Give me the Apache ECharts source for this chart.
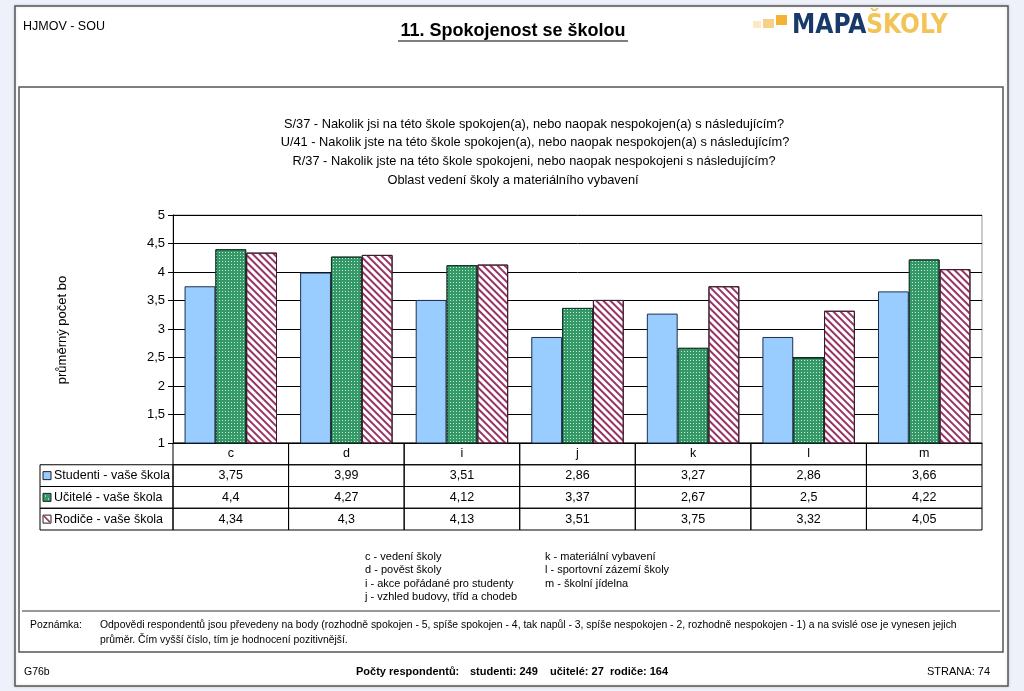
<!DOCTYPE html>
<html>
<head>
<meta charset="utf-8">
<script src="https://cdn.jsdelivr.net/npm/echarts@6/dist/echarts.min.js"></script>
<style>
html,body{margin:0;padding:0;background:#eef1fa;}
#main{width:1024px;height:691px;}
</style>
</head>
<body>
<div id="main"></div>
<script>
var categories = ['c', 'd', 'i', 'j', 'k', 'l', 'm'];
var seriesNames = ['Studenti - vaše škola', 'Učitelé - vaše škola', 'Rodiče - vaše škola'];
var studenti = [3.75, 3.99, 3.51, 2.86, 3.27, 2.86, 3.66];
var ucitele = [4.4, 4.27, 4.12, 3.37, 2.67, 2.5, 4.22];
var rodice = [4.34, 4.3, 4.13, 3.51, 3.75, 3.32, 4.05];
var yTicks = [1, 1.5, 2, 2.5, 3, 3.5, 4, 4.5, 5];
var questionLines = [
  'S/37 - Nakolik jsi na této škole spokojen(a), nebo naopak nespokojen(a) s následujícím?',
  'U/41 - Nakolik jste na této škole spokojen(a), nebo naopak nespokojen(a) s následujícím?',
  'R/37 - Nakolik jste na této škole spokojeni, nebo naopak nespokojeni s následujícím?',
  'Oblast vedení školy a materiálního vybavení'
];
var legendLeft = ['c - vedení školy', 'd - pověst školy', 'i - akce pořádané pro studenty', 'j - vzhled budovy, tříd a chodeb'];
var legendRight = ['k - materiální vybavení', 'l - sportovní zázemí školy', 'm - školní jídelna'];

var FONT = '"Liberation Sans", Arial, sans-serif';
var allValues = [studenti, ucitele, rodice];
function fmt(v) { return String(v).replace('.', ','); }

var tableData = [];
categories.forEach(function (c, i) {
  for (var r = 0; r < 4; r++) tableData.push([i, r]);
});
var legendRows = [[0, 1], [0, 2], [0, 3]];

var colors = ['#99ccff', '#339966', '#ffffff'];
var borders = ['#1f3050', '#17372a', '#3a1a2a'];

var chart = echarts.init(document.getElementById('main'), null, {renderer: 'canvas'});

var graphics = [
  {type: 'rect', z: -10, shape: {x: 15, y: 6, width: 993, height: 680}, style: {fill: '#ffffff', stroke: '#555', lineWidth: 1.5, shadowColor: 'rgba(0,0,0,0.15)', shadowBlur: 3}},
  {type: 'rect', z: -9, shape: {x: 19, y: 87, width: 984, height: 565}, style: {fill: '#ffffff', stroke: '#555', lineWidth: 1.5}},
  {type: 'line', z: -8, shape: {x1: 22, y1: 611, x2: 1000, y2: 611}, style: {stroke: '#333', lineWidth: 1}},
  {type: 'text', x: 23, y: 27, style: {text: 'HJMOV - SOU', font: '12.5px ' + FONT, fill: '#000', verticalAlign: 'middle'}},
  {type: 'text', x: 513, y: 31, style: {text: '11. Spokojenost se školou', font: 'bold 18px ' + FONT, fill: '#000', align: 'center', verticalAlign: 'middle'}},
  {type: 'line', shape: {x1: 398, y1: 41, x2: 628, y2: 41}, style: {stroke: '#000', lineWidth: 1.2}},
  {type: 'rect', shape: {x: 753, y: 21, width: 8, height: 7}, style: {fill: '#fbe9c8'}},
  {type: 'rect', shape: {x: 763, y: 19, width: 11, height: 9}, style: {fill: '#f7d08a'}},
  {type: 'rect', shape: {x: 776, y: 15, width: 11, height: 10}, style: {fill: '#f5b335'}},
  {type: 'text', x: 792, y: 26, style: {text: '{a|MAPA}{b|ŠKOLY}', verticalAlign: 'middle', rich: {
    a: {font: 'bold 26px "DejaVu Sans Condensed", "Liberation Sans Narrow", ' + FONT, fill: '#173a6a'},
    b: {font: 'bold 26px "DejaVu Sans Condensed", "Liberation Sans Narrow", ' + FONT, fill: '#f2c458'}
  }}},
  {type: 'text', x: 62, y: 330, rotation: Math.PI / 2, style: {text: 'průměrný počet bo', font: '13px ' + FONT, fill: '#000', align: 'center', verticalAlign: 'middle'}},
  {type: 'text', x: 30, y: 625, style: {text: 'Poznámka:', font: '10.4px ' + FONT, fill: '#000', verticalAlign: 'middle'}},
  {type: 'text', x: 100, y: 625, style: {text: 'Odpovědi respondentů jsou převedeny na body (rozhodně spokojen - 5, spíše spokojen - 4, tak napůl - 3, spíše nespokojen - 2, rozhodně nespokojen - 1) a na svislé ose je vynesen jejich', font: '10.4px ' + FONT, fill: '#000', verticalAlign: 'middle'}},
  {type: 'text', x: 100, y: 640, style: {text: 'průměr. Čím vyšší číslo, tím je hodnocení pozitivnější.', font: '10.4px ' + FONT, fill: '#000', verticalAlign: 'middle'}},
  {type: 'text', x: 24, y: 672, style: {text: 'G76b', font: '10.5px ' + FONT, fill: '#000', verticalAlign: 'middle'}},
  {type: 'text', x: 356, y: 672, style: {text: 'Počty respondentů:', font: 'bold 11px ' + FONT, fill: '#000', verticalAlign: 'middle'}},
  {type: 'text', x: 470, y: 672, style: {text: 'studenti: 249', font: 'bold 11px ' + FONT, fill: '#000', verticalAlign: 'middle'}},
  {type: 'text', x: 550, y: 672, style: {text: 'učitelé: 27', font: 'bold 11px ' + FONT, fill: '#000', verticalAlign: 'middle'}},
  {type: 'text', x: 610, y: 672, style: {text: 'rodiče: 164', font: 'bold 11px ' + FONT, fill: '#000', verticalAlign: 'middle'}},
  {type: 'text', x: 990, y: 672, style: {text: 'STRANA: 74', font: '11px ' + FONT, fill: '#000', align: 'right', verticalAlign: 'middle'}}
];
var qCenters = [534, 535, 534, 513];
questionLines.forEach(function (t, i) {
  graphics.push({type: 'text', x: qCenters[i], y: 124 + i * 18.7, style: {text: t, font: '12.8px ' + FONT, fill: '#000', align: 'center', verticalAlign: 'middle'}});
});
legendLeft.forEach(function (t, i) {
  graphics.push({type: 'text', x: 365, y: 557 + i * 13.3, style: {text: t, font: '11px ' + FONT, fill: '#000', verticalAlign: 'middle'}});
});
legendRight.forEach(function (t, i) {
  graphics.push({type: 'text', x: 545, y: 557 + i * 13.3, style: {text: t, font: '11px ' + FONT, fill: '#000', verticalAlign: 'middle'}});
});

var greenDecal = {symbol: 'rect', color: 'rgba(255,255,255,0.75)', symbolSize: 1, dashArrayX: [1, 2], dashArrayY: [1, 2], rotation: 0};
var redDecal = {symbol: 'rect', color: '#993366', symbolSize: 1, dashArrayX: [1, 0], dashArrayY: [2, 2.5], rotation: Math.PI / 4};

function barSeries(idx, data, decal) {
  return {
    type: 'bar', name: seriesNames[idx], xAxisIndex: 0, yAxisIndex: 0, data: data,
    barGap: '0%', barCategoryGap: '20%',
    itemStyle: {color: colors[idx], borderColor: borders[idx], borderWidth: 1, decal: decal},
    emphasis: {disabled: true}
  };
}

var option = {
  backgroundColor: '#eef1fa',
  animation: false,
  graphic: {elements: graphics},
  grid: [
    {left: 173, top: 215, width: 809, height: 228, show: true, borderColor: '#999', borderWidth: 1, backgroundColor: 'transparent'},
    {left: 173, top: 443, width: 809, height: 87, show: false}
  ],
  xAxis: [
    {type: 'category', gridIndex: 0, data: categories, axisLine: {lineStyle: {color: '#000'}}, axisTick: {show: false}, axisLabel: {show: false}},
    {type: 'category', gridIndex: 1, data: categories, show: false}
  ],
  yAxis: [
    {type: 'value', gridIndex: 0, min: yTicks[0], max: yTicks[yTicks.length - 1], interval: 0.5,
      axisLine: {show: true, lineStyle: {color: '#000'}}, axisTick: {show: true, length: 5, lineStyle: {color: '#000'}},
      splitLine: {lineStyle: {color: '#000', width: 1}},
      axisLabel: {formatter: function (v) { return fmt(v); }, color: '#000', fontSize: 13, fontFamily: FONT, margin: 8}},
    {type: 'category', gridIndex: 1, data: ['', seriesNames[0], seriesNames[1], seriesNames[2]], inverse: true, show: false}
  ],
  series: [
    barSeries(0, studenti, null),
    barSeries(1, ucitele, greenDecal),
    barSeries(2, rodice, redDecal),
    {
      type: 'custom', xAxisIndex: 1, yAxisIndex: 1, data: tableData, silent: true,
      renderItem: function (params, api) {
        var i = api.value(0), r = api.value(1);
        var c = api.coord([i, r]);
        var s = api.size([1, 1]);
        var text = r === 0 ? categories[i] : fmt(allValues[r - 1][i]);
        return {type: 'group', children: [
          {type: 'rect', shape: {x: c[0] - s[0] / 2, y: c[1] - s[1] / 2, width: s[0], height: s[1]}, style: {fill: 'none', stroke: '#000', lineWidth: 1}},
          {type: 'text', x: c[0], y: c[1], style: {text: text, font: '12.5px ' + FONT, fill: '#000', align: 'center', verticalAlign: 'middle'}}
        ]};
      }
    },
    {
      type: 'custom', xAxisIndex: 1, yAxisIndex: 1, data: legendRows, silent: true,
      renderItem: function (params, api) {
        var r = api.value(1);
        var c = api.coord([0, r]);
        var s = api.size([1, 1]);
        var x0 = params.coordSys.x - 133;
        var top = c[1] - s[1] / 2;
        var k = r - 1;
        var children = [
          {type: 'rect', shape: {x: x0, y: top, width: 133, height: s[1]}, style: {fill: 'none', stroke: '#000', lineWidth: 1}},
          {type: 'rect', shape: {x: x0 + 3, y: c[1] - 4, width: 8, height: 8}, style: {fill: colors[k], stroke: '#222', lineWidth: 1}}
        ];
        if (k === 1) {
          children.push({type: 'rect', shape: {x: x0 + 5, y: c[1] - 2, width: 1, height: 1}, style: {fill: '#fff'}});
          children.push({type: 'rect', shape: {x: x0 + 8, y: c[1] + 1, width: 1, height: 1}, style: {fill: '#fff'}});
        }
        if (k === 2) {
          children.push({type: 'line', shape: {x1: x0 + 4, y1: c[1] - 3, x2: x0 + 10, y2: c[1] + 3}, style: {stroke: '#993366', lineWidth: 1.5}});
        }
        children.push({type: 'text', x: x0 + 14, y: c[1], style: {text: seriesNames[k], font: '12.5px ' + FONT, fill: '#000', verticalAlign: 'middle'}});
        return {type: 'group', children: children};
      }
    }
  ]
};
chart.setOption(option);
</script>
</body>
</html>
